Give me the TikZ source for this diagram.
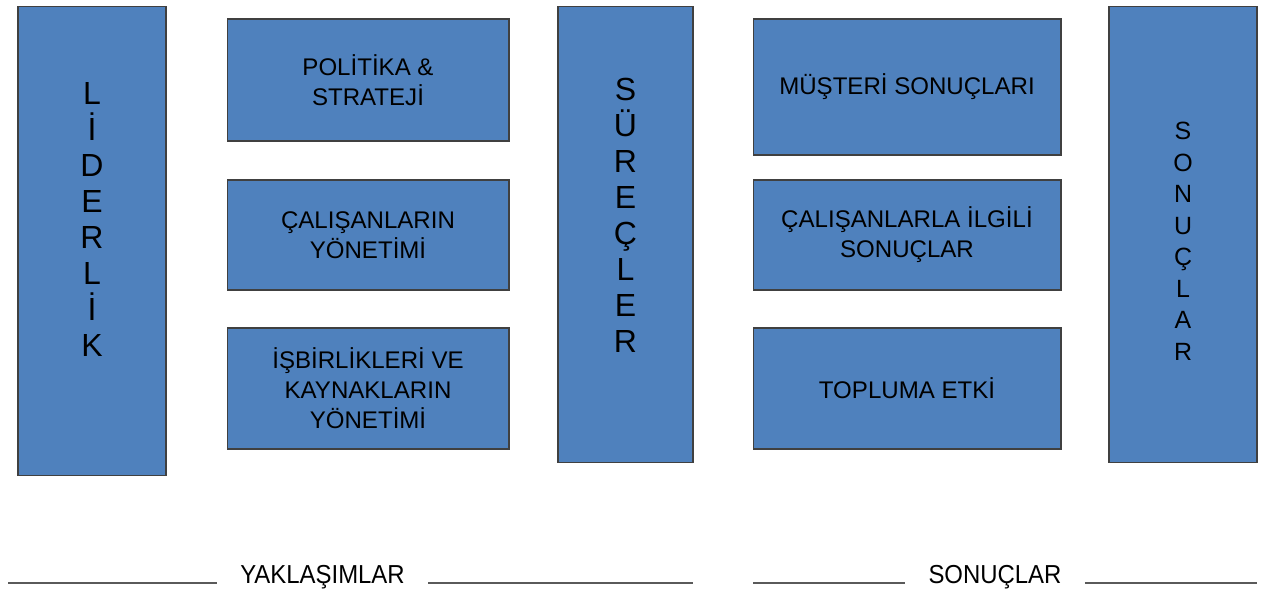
\documentclass[tikz,border=0pt]{standalone}
\usepackage{fontspec}
\setmainfont{Liberation Sans}
\newfontfamily\narrowsans[FakeStretch=0.92]{Liberation Sans}
\definecolor{boxblue}{RGB}{79,129,189}
\definecolor{rulegray}{RGB}{90,90,90}

\begin{document}
\begin{tikzpicture}[x=0.02cm,y=-0.02cm,
  box/.style={draw=black!75,line width=0.6pt,fill=boxblue,inner sep=0pt,
    align=center,font=\fontsize{13.7}{17.1}\selectfont},
  bigletter/.style={anchor=base,inner sep=0pt,font=\fontsize{18.2}{20}\selectfont},
  smallletter/.style={anchor=base,inner sep=0pt,font=\fontsize{14.2}{16}\selectfont},
  caption/.style={anchor=base,inner ysep=0pt,inner xsep=0.46cm,
    font=\narrowsans\fontsize{14.8}{16}\selectfont},
  rule/.style={draw=rulegray,line width=0.6pt}]
  \useasboundingbox (0,0) rectangle (1272,594);

  % tall columns
  \node[box,minimum width=2.96cm,minimum height=9.4cm] (liderlik) at (92,241) {};
  \foreach \ch [count=\i from 0] in {L,İ,D,E,R,L,İ,K}
    \node[bigletter] (lid-\i) at (92,104.5+36*\i) {\ch};

  \node[box,minimum width=2.7cm,minimum height=9.14cm] (surecler) at (625.5,234.5) {};
  \foreach \ch [count=\i from 0] in {S,Ü,R,E,Ç,L,E,R}
    \node[bigletter] (sur-\i) at (625.5,100.5+36*\i) {\ch};

  \node[box,minimum width=2.96cm,minimum height=9.14cm] (sonuclar) at (1183,234.5) {};
  \foreach \ch [count=\i from 0] in {S,O,N,U,Ç,L,A,R}
    \node[smallletter] (son-\i) at (1183,140+31.5*\i) {\ch};

  % approach boxes
  \node[box,minimum width=5.64cm,minimum height=2.44cm] (politika) at (368,80)
    {POLİTİKA \&\\STRATEJİ};
  \node[box,minimum width=5.64cm,minimum height=2.2cm] (calisan) at (368,235)
    {ÇALIŞANLARIN\\YÖNETİMİ};
  \node[box,minimum width=5.64cm,minimum height=2.42cm] (isbirligi) at (368,388.5)
    {İŞBİRLİKLERİ VE\\KAYNAKLARIN\\YÖNETİMİ};

  % result boxes
  \node[box,minimum width=6.16cm,minimum height=2.72cm] (musteri) at (907,87)
    {MÜŞTERİ SONUÇLARI};
  \node[box,minimum width=6.16cm,minimum height=2.2cm] (calisanson) at (907,235)
    {ÇALIŞANLARLA İLGİLİ\\SONUÇLAR};
  \node[box,minimum width=6.16cm,minimum height=2.42cm] (toplum) at (907,388.5)
    {TOPLUMA ETKİ};

  % captions
  \node[caption] (yaklasim) at (322.5,583) {YAKLAŞIMLAR};
  \coordinate (yak-l) at (8,583);
  \coordinate (yak-r) at (693,583);
  \draw[rule] (yak-l) -- (yaklasim.base west);
  \draw[rule] (yaklasim.base east) -- (yak-r);

  \node[caption] (sonuc) at (995,583) {SONUÇLAR};
  \coordinate (son-l) at (753,583);
  \coordinate (son-r) at (1257,583);
  \draw[rule] (son-l) -- (sonuc.base west);
  \draw[rule] (sonuc.base east) -- (son-r);
\end{tikzpicture}
\end{document}
